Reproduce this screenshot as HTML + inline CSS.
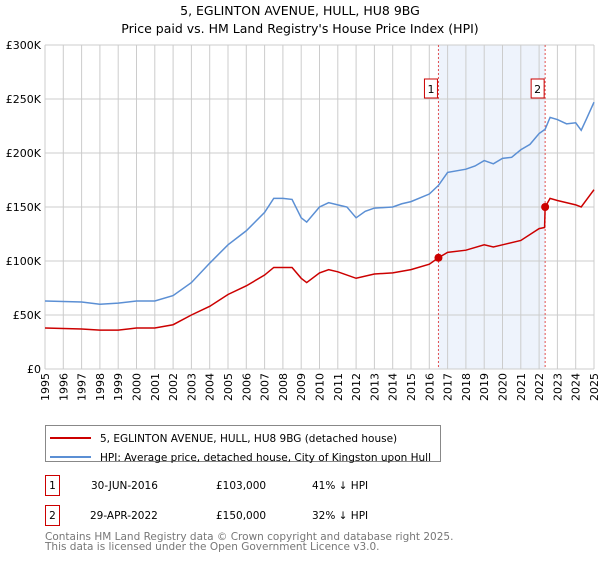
<!DOCTYPE html>
<html><head><meta charset="utf-8"><style>
body{margin:0;background:#fff;font-family:"Liberation Sans","DejaVu Sans",sans-serif;}
svg text{font-family:"DejaVu Sans","Liberation Sans",sans-serif;}
</style></head><body>
<svg id="chart" width="600" height="560">
<text x="300" y="15" text-anchor="middle" font-size="12.5">5, EGLINTON AVENUE, HULL, HU8 9BG</text>
<text x="300" y="33" text-anchor="middle" font-size="12.5">Price paid vs. HM Land Registry's House Price Index (HPI)</text>
<g id="plot"></g>
<rect x="45.5" y="425.5" width="395" height="36" fill="none" stroke="#888"/>
<line x1="50" y1="438" x2="91" y2="438" stroke="#cc0000" stroke-width="2"/>
<text x="100" y="442" font-size="10.5">5, EGLINTON AVENUE, HULL, HU8 9BG (detached house)</text>
<line x1="50" y1="457" x2="91" y2="457" stroke="#5b8fd4" stroke-width="2"/>
<text x="100" y="461" font-size="10.5">HPI: Average price, detached house, City of Kingston upon Hull</text>
<g>
<rect x="45.5" y="475.5" width="14" height="20" fill="none" stroke="#cc0000"/>
<text x="52.5" y="489" text-anchor="middle" font-size="10.5">1</text>
<text x="91" y="489" font-size="10.5">30-JUN-2016</text>
<text x="216" y="489" font-size="10.5">£103,000</text>
<text x="312" y="489" font-size="10.5">41% ↓ HPI</text>
</g>
<g>
<rect x="45.5" y="505.5" width="14" height="20" fill="none" stroke="#cc0000"/>
<text x="52.5" y="519" text-anchor="middle" font-size="10.5">2</text>
<text x="90" y="519" font-size="10.5">29-APR-2022</text>
<text x="216" y="519" font-size="10.5">£150,000</text>
<text x="312" y="519" font-size="10.5">32% ↓ HPI</text>
</g>
<text x="45" y="540" font-size="10.5" fill="#777">Contains HM Land Registry data © Crown copyright and database right 2025.</text>
<text x="45" y="550" font-size="10.5" fill="#777">This data is licensed under the Open Government Licence v3.0.</text>
</svg>
<script>
const yTicks=[0,50,100,150,200,250,300];
const yTickLabels=["£0","£50K","£100K","£150K","£200K","£250K","£300K"];
const years=[1995,1996,1997,1998,1999,2000,2001,2002,2003,2004,2005,2006,2007,2008,2009,2010,2011,2012,2013,2014,2015,2016,2017,2018,2019,2020,2021,2022,2023,2024,2025];
const hpiX=[1995,1996,1997,1998,1999,2000,2001,2002,2003,2004,2005,2006,2007,2007.5,2008,2008.5,2009,2009.3,2010,2010.5,2011,2011.5,2012,2012.5,2013,2014,2014.5,2015,2016,2016.5,2017,2018,2018.5,2019,2019.5,2020,2020.5,2021,2021.5,2022,2022.33,2022.6,2023,2023.5,2024,2024.3,2024.6,2025];
const hpiY=[63,62.5,62,60,61,63,63,68,80,98,115,128,145,158,158,157,140,136,150,154,152,150,140,146,149,150,153,155,162,170,182,185,188,193,190,195,196,203,208,218,222,233,231,227,228,221,232,247];
const ppX=[1995,1997,1998,1999,2000,2001,2002,2003,2004,2005,2006,2007,2007.5,2008.5,2009,2009.3,2010,2010.5,2011,2012,2013,2014,2015,2016,2016.5,2017,2018,2019,2019.5,2020,2021,2022,2022.3,2022.33,2022.6,2023,2024,2024.3,2025];
const ppY=[38,37,36,36,38,38,41,50,58,69,77,87,94,94,84,80,89,92,90,84,88,89,92,97,103,108,110,115,113,115,119,130,131,150,158,156,152,150,166];
const saleX=[2016.5,2022.33];
const saleY=[103,150];
const saleLabels=["1","2"];

const L=45,R=594,T=45,B=369;
const sx=v=>L+(v-1995)/(2025-1995)*(R-L);
const sy=v=>B-v/300*(B-T);
const NS="http://www.w3.org/2000/svg";
const g=document.getElementById('plot');
function mk(t,a){const e=document.createElementNS(NS,t);for(const k in a)e.setAttribute(k,a[k]);g.appendChild(e);return e;}
let e;
e=mk('rect',{x:sx(saleX[0]),y:T,width:sx(saleX[1])-sx(saleX[0]),height:B-T,fill:'#eef3fc'});


years.forEach(y=>{e=mk('line',{x1:sx(y),x2:sx(y),y1:T,y2:B,stroke:'#ccc','stroke-width':1});


e=mk('text',{x:0,y:0,'font-size':11,transform:`translate(${sx(y)+4},${B+4}) rotate(-90)`,'text-anchor':'end'});e.textContent=y;

});
yTicks.forEach((v,i)=>{e=mk('line',{x1:L,x2:R,y1:sy(v),y2:sy(v),stroke:'#ccc','stroke-width':1});


e=mk('text',{x:L-4,y:sy(v)+4,'font-size':11,'text-anchor':'end'});e.textContent=yTickLabels[i];

});
saleX.forEach((x,i)=>{e=mk('line',{x1:sx(x),x2:sx(x),y1:T,y2:B,stroke:'#e05050','stroke-dasharray':'2,2','stroke-width':1});


e=mk('rect',{x:sx(x)-14,y:79,width:13,height:19,fill:'#fff',stroke:'#cc0000'});


e=mk('text',{x:sx(x)-7.5,y:93,'font-size':11,'text-anchor':'middle'});e.textContent=saleLabels[i];

});
e=mk('polyline',{points:hpiX.map((x,i)=>sx(x)+','+sy(hpiY[i])).join(' '),fill:'none',stroke:'#5b8fd4','stroke-width':1.5});


e=mk('polyline',{points:ppX.map((x,i)=>sx(x)+','+sy(ppY[i])).join(' '),fill:'none',stroke:'#cc0000','stroke-width':1.5});


saleX.forEach((x,i)=>{e=mk('circle',{cx:sx(x),cy:sy(saleY[i]),r:4,fill:'#cc0000'});

});
</script>
</body></html>
